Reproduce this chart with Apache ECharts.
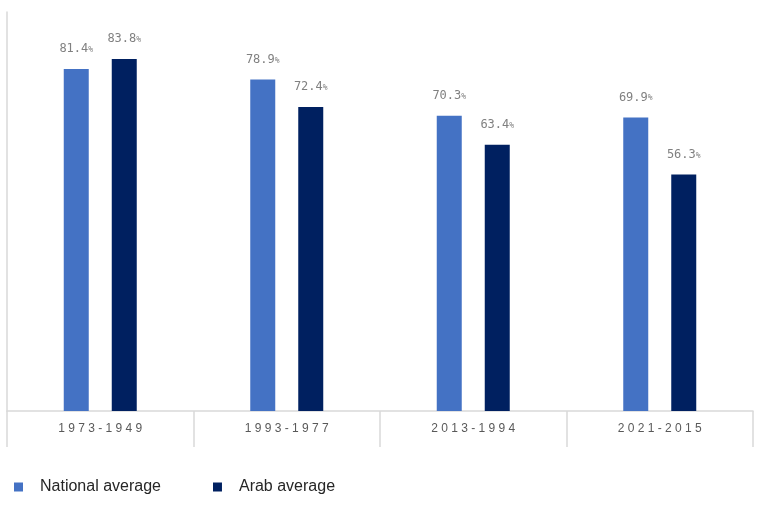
<!DOCTYPE html>
<html>
<head>
<meta charset="utf-8">
<script src="https://cdn.jsdelivr.net/npm/echarts@6/dist/echarts.min.js"></script>
<style>
html,body{margin:0;padding:0;background:#fff;}
#chart{width:765px;height:507px;}
</style>
</head>
<body>
<div id="chart"></div>
<script>
const categories = ['1973-1949', '1993-1977', '2013-1994', '2021-2015'];
const seriesNames = ['National average', 'Arab average'];
const nationalAverage = [81.4, 78.9, 70.3, 69.9];
const arabAverage = [83.8, 72.4, 63.4, 56.3];

const chart = echarts.init(document.getElementById('chart'), null, {renderer: 'canvas'});

const labelOpt = {
  show: true,
  position: 'top',
  distance: 14,
  formatter: p => '{v|' + p.value.toFixed(1) + '}{p|%}',
  rich: {
    v: {fontFamily: 'DejaVu Sans Mono', fontSize: 12, color: '#808080'},
    p: {fontFamily: 'DejaVu Sans Mono', fontSize: 8, color: '#808080', verticalAlign: 'bottom', padding: [0, 0, 1, 0]}
  }
};

chart.setOption({
  animation: false,
  backgroundColor: '#ffffff',
  grid: {left: 7, right: 12, top: 12, bottom: 96, containLabel: false},
  legend: {
    left: 14,
    top: 479,
    padding: 0,
    itemWidth: 9,
    itemHeight: 9,
    itemGap: 52,
    icon: 'rect',
    textStyle: {fontFamily: 'Liberation Sans', fontSize: 16, color: '#262626', padding: [0, 0, 0, 12]},
    data: seriesNames
  },
  xAxis: {
    type: 'category',
    data: categories,
    axisLine: {show: true, lineStyle: {color: '#d9d9d9', width: 1.5}},
    axisTick: {show: true, length: 36, lineStyle: {color: '#d9d9d9', width: 1.5}},
    axisLabel: {
      margin: 12,
      fontFamily: 'Liberation Sans',
      fontSize: 12,
      color: '#595959',
      formatter: v => v.split('').join(' ')
    }
  },
  yAxis: {
    type: 'value',
    min: 0,
    max: 95,
    axisLine: {show: true, lineStyle: {color: '#d9d9d9', width: 1.5}},
    axisTick: {show: false},
    axisLabel: {show: false},
    splitLine: {show: false}
  },
  series: [
    {
      name: seriesNames[0],
      type: 'bar',
      data: nationalAverage,
      barWidth: 25,
      barGap: '92%',
      itemStyle: {color: '#4472C4'},
      label: labelOpt
    },
    {
      name: seriesNames[1],
      type: 'bar',
      data: arabAverage,
      barWidth: 25,
      barGap: '92%',
      itemStyle: {color: '#002060'},
      label: labelOpt
    }
  ]
});
</script>
</body>
</html>
